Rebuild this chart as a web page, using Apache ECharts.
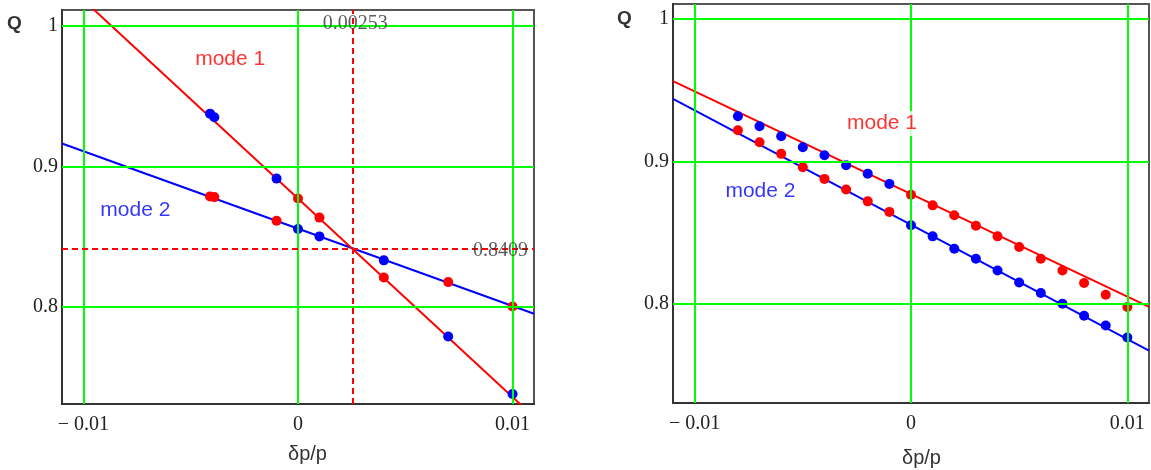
<!DOCTYPE html>
<html>
<head>
<meta charset="utf-8">
<script src="https://cdn.jsdelivr.net/npm/echarts@6/dist/echarts.min.js"></script>
<style>
  html, body { margin: 0; padding: 0; background: #fff; }
  #chart { width: 1151px; height: 470px; }
</style>
</head>
<body>
<div id="chart"></div>
<script>
// axis ticks
const xTicks = [-0.01, 0, 0.01]
const xTickLabels = ['\u2212 0.01', '0', '0.01']
const yTicks = [0.8, 0.9, 1]
const yTickLabels = ['0.8', '0.9', '1']

// left panel: fitted lines and computed points
const leftMode1Line = [[-0.011, 1.0327], [0.011, 0.7213]]
const leftMode2Line = [[-0.011, 0.9162], [0.011, 0.7948]]
const leftRedPts = [[-0.0041, 0.8785], [-0.0039, 0.878], [-0.001, 0.8612], [0, 0.877], [0.001, 0.8634], [0.004, 0.8207], [0.007, 0.8174], [0.01, 0.8]]
const leftBluePts = [[-0.0041, 0.9375], [-0.0039, 0.935], [-0.001, 0.8912], [0, 0.8553], [0.001, 0.85], [0.004, 0.8329], [0.007, 0.7786], [0.01, 0.7376]]
const crossX = 0.00253
const crossQ = 0.8409

// right panel
const rightX = [-0.008, -0.007, -0.006, -0.005, -0.004, -0.003, -0.002, -0.001, 0, 0.001, 0.002, 0.003, 0.004, 0.005, 0.006, 0.007, 0.008, 0.009, 0.01]
const rightRedQ = [0.9218, 0.9134, 0.9052, 0.8958, 0.8876, 0.8801, 0.8718, 0.8644, 0.8765, 0.869, 0.862, 0.8547, 0.8472, 0.8397, 0.8315, 0.8232, 0.8144, 0.8061, 0.7975]
const rightBlueQ = [0.9317, 0.9246, 0.9176, 0.9099, 0.9042, 0.8972, 0.8913, 0.8841, 0.855, 0.8472, 0.8385, 0.8315, 0.8232, 0.8148, 0.8073, 0.7998, 0.7913, 0.7845, 0.7761]
const rightMode1Line = [[-0.011, 0.9564], [0.011, 0.7976]]
const rightMode2Line = [[-0.011, 0.9439], [0.011, 0.7669]]

const RED = '#ff0000'
const BLUE = '#0000ff'
const GREEN = '#00ff00'
const SERIF = '"Liberation Serif", "DejaVu Serif", serif'
const SANS = '"Liberation Sans", Arial, sans-serif'

const chart = echarts.init(document.getElementById('chart'), null, { renderer: 'canvas' })

function xAxis(gridIndex) {
  return {
    type: 'value', gridIndex, min: -0.011, max: 0.011,
    axisLine: { show: true, onZero: false, lineStyle: { color: '#333', width: 2 } },
    axisTick: { show: false },
    splitLine: { show: false },
    axisLabel: {
      customValues: xTicks,
      formatter: (v) => xTickLabels[xTicks.findIndex((t) => Math.abs(t - v) < 1e-9)] ?? '',
      color: '#222', fontFamily: SERIF, fontSize: 20, margin: 11
    }
  }
}

function yAxis(gridIndex, min, max) {
  return {
    type: 'value', gridIndex, min, max,
    axisLine: { show: true, onZero: false, lineStyle: { color: '#333', width: 2 } },
    axisTick: { show: false },
    splitLine: { show: false },
    axisLabel: {
      customValues: yTicks,
      formatter: (v) => yTickLabels[yTicks.findIndex((t) => Math.abs(t - v) < 1e-9)] ?? '',
      color: '#222', fontFamily: SERIF, fontSize: 20, margin: 4
    }
  }
}

function gridSeries(i, extra) {
  const lines = [
    ...xTicks.map((v) => ({ xAxis: v })),
    ...yTicks.map((v) => ({ yAxis: v }))
  ]
  return {
    type: 'line', xAxisIndex: i, yAxisIndex: i, data: [], z: 1,
    markLine: {
      silent: true, symbol: ['none', 'none'], animation: false, precision: 6,
      label: { show: false },
      lineStyle: { color: GREEN, width: 2, type: 'solid' },
      data: lines.concat(extra || [])
    }
  }
}

function fitLine(i, data, color) {
  return {
    type: 'line', xAxisIndex: i, yAxisIndex: i, data, z: 3,
    showSymbol: false, symbol: 'none', clip: true,
    lineStyle: { color, width: 2 }
  }
}

function dots(i, data, color, size) {
  return {
    type: 'scatter', xAxisIndex: i, yAxisIndex: i, data, z: 4,
    symbolSize: size, itemStyle: { color, opacity: 1 }
  }
}

function textAt(i, pt, text, style) {
  return {
    type: 'scatter', xAxisIndex: i, yAxisIndex: i, data: [pt], z: 5,
    symbolSize: 0, silent: true,
    label: Object.assign({ show: true, position: 'inside', formatter: text }, style)
  }
}

const dashStyle = { color: RED, width: 2, type: [6, 4] }
const modeFont = { fontFamily: SANS, fontSize: 21 }
const numFont = { fontFamily: SERIF, fontSize: 20, color: '#333' }

chart.setOption({
  animation: false,
  grid: [
    { left: 62, right: 617, top: 10, bottom: 66, show: true, borderColor: '#555', borderWidth: 2 },
    { left: 673, right: 2, top: 4, bottom: 67, show: true, borderColor: '#555', borderWidth: 2 }
  ],
  xAxis: [xAxis(0), xAxis(1)],
  yAxis: [yAxis(0, 0.7305, 1.0114), yAxis(1, 0.73, 1.0106)],
  graphic: [
    { type: 'text', left: 7, top: 14, style: { text: 'Q', font: 'bold 19px ' + SANS, fill: '#333' } },
    { type: 'text', left: 617, top: 9, style: { text: 'Q', font: 'bold 19px ' + SANS, fill: '#333' } },
    { type: 'text', left: 288, top: 444, style: { text: 'δp/p', font: '20px ' + SANS, fill: '#333' } },
    { type: 'text', left: 902, top: 448, style: { text: 'δp/p', font: '20px ' + SANS, fill: '#333' } }
  ],
  series: [
    gridSeries(0, [
      { xAxis: crossX, lineStyle: dashStyle },
      { yAxis: crossQ, lineStyle: dashStyle }
    ]),
    fitLine(0, leftMode2Line, BLUE),
    fitLine(0, leftMode1Line, RED),
    dots(0, leftRedPts, RED, 10),
    dots(0, leftBluePts, BLUE, 10),
    textAt(0, [crossX, 1.0], String(crossX), Object.assign({ offset: [3, -2] }, numFont)),
    textAt(0, [0.00944, crossQ], String(crossQ), Object.assign({ offset: [0, 2] }, numFont)),
    textAt(0, [-0.00316, 0.976], 'mode 1', Object.assign({ color: RED }, modeFont)),
    textAt(0, [-0.00758, 0.869], 'mode 2', Object.assign({ color: BLUE }, modeFont)),

    gridSeries(1),
    fitLine(1, rightMode1Line, RED),
    fitLine(1, rightMode2Line, BLUE),
    dots(1, rightX.map((x, k) => [x, rightRedQ[k]]), RED, 10),
    dots(1, rightX.map((x, k) => [x, rightBlueQ[k]]), BLUE, 10),
    textAt(1, [-0.00134, 0.9266], 'mode 1', Object.assign({ color: RED, backgroundColor: '#fff', padding: [2, 3] }, modeFont)),
    textAt(1, [-0.00696, 0.8787], 'mode 2', Object.assign({ color: BLUE }, modeFont))
  ]
})
</script>
</body>
</html>
